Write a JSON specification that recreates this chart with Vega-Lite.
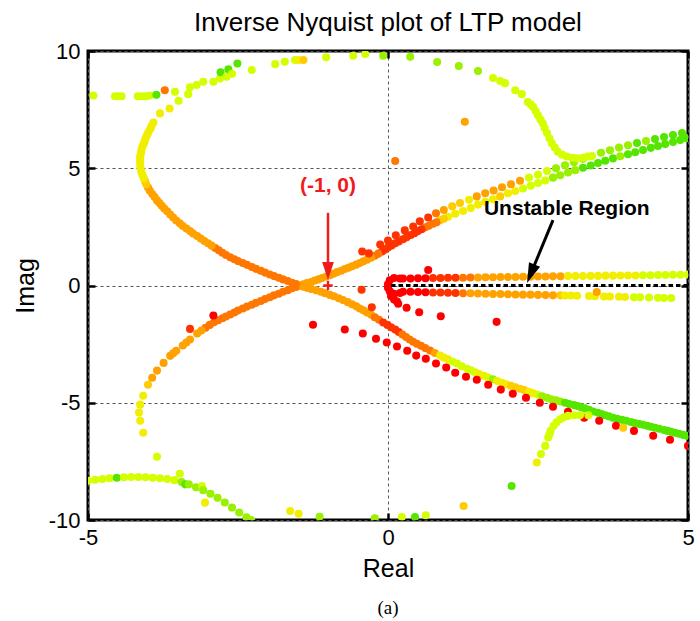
{
"$schema": "https://vega.github.io/schema/vega-lite/v6.json",
"width": 600, "height": 469,
"autosize": {"type": "none"},
"padding": {"left": 88, "top": 51, "right": 12, "bottom": 101},
"background": "white",
"title": {"text": "Inverse Nyquist plot of LTP model", "fontSize": 26, "fontWeight": "normal", "font": "Liberation Sans", "color": "black", "offset": 4},
"config": {"view": {"stroke": "black", "strokeWidth": 3}},
"datasets": {
"pts": [
{"x":-1.47,"y":0,"c":3},{"x":-1.35,"y":0.1,"c":3},{"x":-1.22,"y":0.21,"c":3},{"x":-1.1,"y":0.32,"c":3},{"x":-0.97,"y":0.44,"c":3},{"x":-0.85,"y":0.57,"c":3},{"x":-0.72,"y":0.7,"c":3},{"x":-0.6,"y":0.82,"c":3},{"x":-0.47,"y":0.96,"c":3},{"x":-0.35,"y":1.1,"c":3},{"x":-0.22,"y":1.27,"c":2},{"x":-0.1,"y":1.45,"c":1},{"x":0,"y":1.62,"c":1},{"x":0.12,"y":1.8,"c":1},{"x":0.25,"y":1.97,"c":1},{"x":0.38,"y":2.15,"c":1},{"x":0.5,"y":2.32,"c":1},{"x":0.62,"y":2.48,"c":2},{"x":0.75,"y":2.63,"c":2},{"x":0.87,"y":2.78,"c":4},{"x":1,"y":2.93,"c":5},{"x":1.12,"y":3.06,"c":5},{"x":1.25,"y":3.18,"c":5},{"x":1.38,"y":3.3,"c":5},{"x":1.5,"y":3.45,"c":5},{"x":1.62,"y":3.57,"c":5},{"x":1.75,"y":3.68,"c":5},{"x":1.87,"y":3.8,"c":4},{"x":2,"y":3.93,"c":5},{"x":2.12,"y":4.03,"c":5},{"x":2.25,"y":4.14,"c":6},{"x":2.38,"y":4.25,"c":6},{"x":2.5,"y":4.37,"c":6},{"x":2.62,"y":4.48,"c":6},{"x":2.75,"y":4.6,"c":7},{"x":2.87,"y":4.7,"c":7},{"x":3,"y":4.82,"c":7},{"x":3.12,"y":4.92,"c":7},{"x":3.25,"y":5.02,"c":8},{"x":3.38,"y":5.12,"c":8},{"x":3.5,"y":5.22,"c":8},{"x":3.62,"y":5.32,"c":8},{"x":3.75,"y":5.42,"c":8},{"x":3.87,"y":5.51,"c":7},{"x":4,"y":5.6,"c":8},{"x":4.12,"y":5.68,"c":8},{"x":4.25,"y":5.78,"c":8},{"x":4.38,"y":5.87,"c":8},{"x":4.5,"y":5.95,"c":8},{"x":4.62,"y":6.03,"c":8},{"x":4.75,"y":6.12,"c":8},{"x":4.87,"y":6.2,"c":8},{"x":4.98,"y":6.28,"c":8},
{"x":-1.41,"y":0.05,"c":3},{"x":-1.28,"y":0.15,"c":3},{"x":-1.16,"y":0.26,"c":3},{"x":-1.03,"y":0.38,"c":3},{"x":-0.91,"y":0.5,"c":3},{"x":-0.78,"y":0.63,"c":3},{"x":-0.66,"y":0.76,"c":3},{"x":-0.53,"y":0.89,"c":3},{"x":-0.41,"y":1.03,"c":3},{"x":-0.28,"y":1.18,"c":3},{"x":-0.16,"y":1.36,"c":2},{"x":-0.05,"y":1.53,"c":1},{"x":0.06,"y":1.71,"c":1},{"x":0.18,"y":1.88,"c":1},{"x":0.31,"y":2.06,"c":1},{"x":0.44,"y":2.23,"c":1},{"x":0.56,"y":2.4,"c":1},{"x":0.68,"y":2.55,"c":2},{"x":0.81,"y":2.7,"c":2},{"x":0.93,"y":2.85,"c":4},
{"x":-0.43,"y":1.45,"c":1},{"x":-0.32,"y":1.37,"c":1},{"x":-0.13,"y":1.75,"c":1},{"x":0,"y":1.92,"c":1},{"x":0.13,"y":2.14,"c":1},{"x":0.28,"y":2.35,"c":1},{"x":0.42,"y":2.52,"c":1},{"x":0.53,"y":2.74,"c":1},{"x":0.67,"y":2.9,"c":1},{"x":0.8,"y":3.08,"c":2},{"x":0.93,"y":3.22,"c":3},{"x":1.07,"y":3.38,"c":4},{"x":1.2,"y":3.52,"c":4},{"x":1.35,"y":3.66,"c":5},{"x":1.48,"y":3.8,"c":3},{"x":1.62,"y":3.93,"c":3},{"x":1.76,"y":4.05,"c":3},{"x":1.9,"y":4.19,"c":3},{"x":2.05,"y":4.32,"c":3},{"x":2.2,"y":4.47,"c":3},{"x":2.35,"y":4.6,"c":6},{"x":2.5,"y":4.72,"c":6},{"x":2.65,"y":4.88,"c":6},{"x":2.8,"y":5,"c":7},{"x":2.95,"y":5.13,"c":7},{"x":3.1,"y":5.26,"c":7},{"x":3.25,"y":5.4,"c":7},{"x":3.4,"y":5.52,"c":6},{"x":3.55,"y":5.66,"c":7},{"x":3.7,"y":5.77,"c":7},{"x":3.85,"y":5.88,"c":7},{"x":4,"y":5.98,"c":7},{"x":4.15,"y":6.08,"c":8},{"x":4.3,"y":6.16,"c":7},{"x":4.45,"y":6.25,"c":8},{"x":4.6,"y":6.33,"c":8},{"x":4.75,"y":6.42,"c":8},{"x":4.9,"y":6.5,"c":8},
{"x":-1.53,"y":0.06,"c":2},{"x":-1.6,"y":0.12,"c":2},{"x":-1.67,"y":0.19,"c":2},{"x":-1.75,"y":0.26,"c":2},{"x":-1.82,"y":0.33,"c":2},{"x":-1.9,"y":0.4,"c":2},{"x":-1.97,"y":0.47,"c":2},{"x":-2.05,"y":0.55,"c":2},{"x":-2.12,"y":0.63,"c":2},{"x":-2.2,"y":0.71,"c":2},{"x":-2.27,"y":0.79,"c":2},{"x":-2.35,"y":0.88,"c":2},{"x":-2.42,"y":0.96,"c":2},{"x":-2.5,"y":1.04,"c":2},{"x":-2.56,"y":1.12,"c":2},{"x":-2.63,"y":1.2,"c":2},{"x":-2.7,"y":1.3,"c":2},{"x":-2.76,"y":1.4,"c":2},{"x":-2.82,"y":1.5,"c":2},{"x":-2.88,"y":1.6,"c":2},{"x":-2.94,"y":1.7,"c":3},{"x":-3,"y":1.8,"c":3},{"x":-3.06,"y":1.9,"c":3},{"x":-3.12,"y":2,"c":3},{"x":-3.18,"y":2.11,"c":3},{"x":-3.25,"y":2.22,"c":3},{"x":-3.3,"y":2.32,"c":3},{"x":-3.36,"y":2.43,"c":3},{"x":-3.42,"y":2.54,"c":3},{"x":-3.47,"y":2.65,"c":3},{"x":-3.53,"y":2.77,"c":3},{"x":-3.58,"y":2.9,"c":3},{"x":-3.63,"y":3.03,"c":3},{"x":-3.68,"y":3.17,"c":3},{"x":-3.73,"y":3.28,"c":3},{"x":-3.77,"y":3.4,"c":3},{"x":-3.81,"y":3.52,"c":3},{"x":-3.85,"y":3.63,"c":3},{"x":-3.89,"y":3.77,"c":3},{"x":-3.93,"y":3.9,"c":3},{"x":-3.97,"y":4.04,"c":3},{"x":-4,"y":4.18,"c":3},{"x":-4.03,"y":4.32,"c":4},{"x":-4.05,"y":4.45,"c":4},{"x":-4.07,"y":4.58,"c":5},{"x":-4.09,"y":4.7,"c":5},{"x":-4.11,"y":4.84,"c":5},{"x":-4.12,"y":4.97,"c":5},{"x":-4.13,"y":5.11,"c":5},{"x":-4.13,"y":5.25,"c":5},{"x":-4.13,"y":5.38,"c":5},{"x":-4.13,"y":5.5,"c":5},{"x":-4.12,"y":5.62,"c":5},{"x":-4.11,"y":5.75,"c":5},{"x":-4.1,"y":5.88,"c":5},{"x":-4.08,"y":6,"c":5},{"x":-4.06,"y":6.11,"c":5},{"x":-4.05,"y":6.22,"c":5},{"x":-4.03,"y":6.33,"c":5},{"x":-4.01,"y":6.45,"c":5},{"x":-3.99,"y":6.56,"c":5},{"x":-3.96,"y":6.68,"c":5},{"x":-3.94,"y":6.8,"c":5},{"x":-3.91,"y":6.95,"c":5},{"x":-3.8,"y":7.34,"c":5},{"x":-3.64,"y":7.55,"c":5},{"x":-3.49,"y":7.88,"c":6},{"x":-3.33,"y":8.16,"c":6},
{"x":-1.53,"y":-0.06,"c":2},{"x":-1.6,"y":-0.12,"c":2},{"x":-1.67,"y":-0.2,"c":2},{"x":-1.75,"y":-0.27,"c":2},{"x":-1.82,"y":-0.35,"c":2},{"x":-1.9,"y":-0.42,"c":2},{"x":-1.97,"y":-0.5,"c":2},{"x":-2.05,"y":-0.58,"c":2},{"x":-2.12,"y":-0.66,"c":2},{"x":-2.2,"y":-0.74,"c":2},{"x":-2.27,"y":-0.82,"c":2},{"x":-2.35,"y":-0.9,"c":2},{"x":-2.42,"y":-0.98,"c":2},{"x":-2.5,"y":-1.07,"c":2},{"x":-2.56,"y":-1.15,"c":2},{"x":-2.63,"y":-1.24,"c":2},{"x":-2.7,"y":-1.32,"c":2},{"x":-2.76,"y":-1.4,"c":2},{"x":-2.83,"y":-1.48,"c":2},{"x":-2.9,"y":-1.57,"c":2},{"x":-2.97,"y":-1.68,"c":2},{"x":-3.04,"y":-1.8,"c":2},{"x":-3.11,"y":-1.92,"c":3},{"x":-3.18,"y":-2.05,"c":3},{"x":-3.3,"y":-2.3,"c":3},{"x":-3.36,"y":-2.43,"c":3},{"x":-3.42,"y":-2.56,"c":3},{"x":-3.53,"y":-2.78,"c":3},{"x":-3.58,"y":-2.89,"c":3},{"x":-3.63,"y":-3,"c":3},{"x":-3.74,"y":-3.3,"c":3},{"x":-3.85,"y":-3.63,"c":3},{"x":-3.93,"y":-3.93,"c":3},{"x":-4,"y":-4.23,"c":4},{"x":-4.08,"y":-4.7,"c":5},{"x":-4.13,"y":-5.08,"c":5},{"x":-4.15,"y":-5.42,"c":5},{"x":-4.13,"y":-5.77,"c":5},{"x":-4.08,"y":-6.28,"c":5},{"x":-3.85,"y":-7.3,"c":6},{"x":-3.47,"y":-8.03,"c":6},{"x":-3.05,"y":-9.26,"c":5},
{"x":-1.41,"y":-0.05,"c":3},{"x":-1.35,"y":-0.1,"c":3},{"x":-1.28,"y":-0.15,"c":3},{"x":-1.2,"y":-0.2,"c":3},{"x":-1.12,"y":-0.27,"c":3},{"x":-1.05,"y":-0.33,"c":3},{"x":-0.97,"y":-0.4,"c":3},{"x":-0.9,"y":-0.46,"c":3},{"x":-0.82,"y":-0.54,"c":3},{"x":-0.75,"y":-0.62,"c":3},{"x":-0.67,"y":-0.71,"c":3},{"x":-0.6,"y":-0.8,"c":3},{"x":-0.53,"y":-0.89,"c":3},{"x":-0.47,"y":-0.98,"c":3},{"x":-0.41,"y":-1.06,"c":3},{"x":-0.35,"y":-1.15,"c":3},{"x":-0.28,"y":-1.25,"c":3},{"x":-0.22,"y":-1.35,"c":2},{"x":-0.15,"y":-1.46,"c":2},{"x":-0.08,"y":-1.58,"c":1},{"x":-0.01,"y":-1.68,"c":1},{"x":0.05,"y":-1.78,"c":1},{"x":0.12,"y":-1.88,"c":1},{"x":0.18,"y":-1.98,"c":1},{"x":0.24,"y":-2.09,"c":2},{"x":0.3,"y":-2.2,"c":2},{"x":0.36,"y":-2.3,"c":2},{"x":0.42,"y":-2.4,"c":2},{"x":0.48,"y":-2.48,"c":2},{"x":0.55,"y":-2.57,"c":2},{"x":0.62,"y":-2.67,"c":2},{"x":0.7,"y":-2.77,"c":2},{"x":0.78,"y":-2.88,"c":3},{"x":0.87,"y":-2.99,"c":5},{"x":0.93,"y":-3.07,"c":5},{"x":1,"y":-3.15,"c":5},{"x":1.07,"y":-3.24,"c":6},{"x":1.15,"y":-3.33,"c":6},{"x":1.23,"y":-3.44,"c":6},{"x":1.32,"y":-3.55,"c":6},{"x":1.38,"y":-3.62,"c":6},{"x":1.45,"y":-3.7,"c":6},{"x":1.52,"y":-3.77,"c":5},{"x":1.6,"y":-3.85,"c":5},{"x":1.67,"y":-3.92,"c":6},{"x":1.75,"y":-4,"c":7},{"x":1.82,"y":-4.07,"c":5},{"x":1.9,"y":-4.15,"c":5},{"x":1.97,"y":-4.21,"c":5},{"x":2.05,"y":-4.28,"c":4},{"x":2.12,"y":-4.34,"c":4},{"x":2.2,"y":-4.4,"c":4},{"x":2.27,"y":-4.46,"c":4},{"x":2.35,"y":-4.53,"c":5},{"x":2.42,"y":-4.6,"c":5},{"x":2.5,"y":-4.66,"c":6},{"x":2.57,"y":-4.72,"c":7},{"x":2.65,"y":-4.79,"c":7},{"x":2.72,"y":-4.85,"c":7},{"x":2.8,"y":-4.9,"c":7},{"x":2.87,"y":-4.95,"c":7},{"x":2.95,"y":-5,"c":8},{"x":3.02,"y":-5.05,"c":8},{"x":3.1,"y":-5.1,"c":8},{"x":3.16,"y":-5.14,"c":8},{"x":3.22,"y":-5.19,"c":8},{"x":3.28,"y":-5.24,"c":8},{"x":3.35,"y":-5.3,"c":8},{"x":3.42,"y":-5.37,"c":8},{"x":3.5,"y":-5.43,"c":8},{"x":3.56,"y":-5.48,"c":8},{"x":3.62,"y":-5.53,"c":8},{"x":3.68,"y":-5.58,"c":8},{"x":3.75,"y":-5.64,"c":8},{"x":3.82,"y":-5.68,"c":8},{"x":3.9,"y":-5.73,"c":8},{"x":3.97,"y":-5.77,"c":8},{"x":4.05,"y":-5.82,"c":8},{"x":4.11,"y":-5.86,"c":8},{"x":4.18,"y":-5.9,"c":8},{"x":4.25,"y":-5.94,"c":8},{"x":4.32,"y":-5.98,"c":8},{"x":4.38,"y":-6.02,"c":8},{"x":4.45,"y":-6.07,"c":8},{"x":4.52,"y":-6.11,"c":8},{"x":4.6,"y":-6.16,"c":8},{"x":4.66,"y":-6.2,"c":8},{"x":4.72,"y":-6.24,"c":8},{"x":4.78,"y":-6.28,"c":8},{"x":4.85,"y":-6.32,"c":8},{"x":4.92,"y":-6.37,"c":8},{"x":4.98,"y":-6.41,"c":8},
{"x":-1.25,"y":-1.67,"c":0},{"x":-0.72,"y":-1.88,"c":0},{"x":-0.42,"y":-2.05,"c":0},{"x":-0.2,"y":-2.27,"c":0},{"x":-0.02,"y":-2.43,"c":0},{"x":0.15,"y":-2.6,"c":0},{"x":0.32,"y":-2.78,"c":0},{"x":0.47,"y":-2.99,"c":0},{"x":0.63,"y":-3.12,"c":0},{"x":0.8,"y":-3.33,"c":0},{"x":0.97,"y":-3.5,"c":0},{"x":1.12,"y":-3.72,"c":0},{"x":1.3,"y":-3.89,"c":0},{"x":1.48,"y":-4.02,"c":0},{"x":1.67,"y":-4.23,"c":0},{"x":1.88,"y":-4.44,"c":0},{"x":2.08,"y":-4.62,"c":0},{"x":2.3,"y":-4.79,"c":0},{"x":2.53,"y":-5,"c":0},{"x":2.75,"y":-5.17,"c":0},{"x":3,"y":-5.38,"c":0},{"x":3.27,"y":-5.64,"c":0},{"x":3.52,"y":-5.77,"c":0},{"x":3.8,"y":-5.98,"c":0},{"x":4.1,"y":-6.2,"c":0},{"x":4.42,"y":-6.41,"c":0},{"x":4.7,"y":-6.58,"c":0},{"x":5,"y":-6.84,"c":0},
{"x":-2.91,"y":-1.28,"c":0},{"x":-3.3,"y":-1.85,"c":1},{"x":0.17,"y":-0.78,"c":0},{"x":0.31,"y":-0.95,"c":0},{"x":0.52,"y":-1.14,"c":0},{"x":0.88,"y":-1.31,"c":0},{"x":1.81,"y":-1.55,"c":0},{"x":-0.44,"y":-0.18,"c":1},{"x":-0.27,"y":-0.93,"c":1},{"x":0.67,"y":0.66,"c":0},{"x":0.12,"y":5.31,"c":2},{"x":1.28,"y":6.98,"c":3},
{"x":-4.91,"y":8.1,"c":6},{"x":-4.55,"y":8.07,"c":6},{"x":-4.5,"y":8.07,"c":6},{"x":-4.44,"y":8.07,"c":6},{"x":-4.17,"y":8.07,"c":6},{"x":-4.1,"y":8.07,"c":6},{"x":-4.03,"y":8.07,"c":6},{"x":-3.97,"y":8.1,"c":6},{"x":-3.86,"y":8.13,"c":8},{"x":-3.72,"y":8.33,"c":2},{"x":-3.55,"y":8.26,"c":6},
{"x":-3.3,"y":8.45,"c":6},{"x":-3.19,"y":8.55,"c":6},{"x":-3.08,"y":8.69,"c":6},{"x":-2.91,"y":8.69,"c":6},{"x":-2.8,"y":8.83,"c":6},{"x":-2.79,"y":9.09,"c":8},{"x":-2.69,"y":8.9,"c":6},{"x":-2.66,"y":9.22,"c":8},{"x":-2.6,"y":9.03,"c":6},{"x":-2.51,"y":9.47,"c":8},{"x":-2.27,"y":9.19,"c":6},{"x":-1.88,"y":9.44,"c":6},{"x":-1.72,"y":9.54,"c":6},{"x":-1.55,"y":9.62,"c":6},{"x":-1.49,"y":9.62,"c":5},{"x":-1.41,"y":9.62,"c":4},{"x":-1.03,"y":9.73,"c":6},{"x":-0.58,"y":9.8,"c":6},{"x":-0.38,"y":9.87,"c":6},{"x":-0.08,"y":9.8,"c":7},{"x":0.37,"y":9.75,"c":7},{"x":0.82,"y":9.53,"c":7},{"x":1.18,"y":9.36,"c":7},{"x":1.5,"y":9.15,"c":7},{"x":1.75,"y":8.85,"c":6},{"x":1.87,"y":8.72,"c":6},{"x":1.95,"y":8.63,"c":6},{"x":2.12,"y":8.33,"c":6},{"x":2.23,"y":8.16,"c":6},{"x":2.33,"y":7.82,"c":6},{"x":2.38,"y":7.72,"c":6},{"x":2.42,"y":7.61,"c":6},{"x":2.46,"y":7.44,"c":6},{"x":2.5,"y":7.26,"c":6},{"x":2.54,"y":7.08,"c":6},{"x":2.58,"y":6.92,"c":6},{"x":2.61,"y":6.72,"c":6},{"x":2.65,"y":6.5,"c":6},{"x":2.69,"y":6.28,"c":6},{"x":2.73,"y":6.07,"c":6},{"x":2.78,"y":5.88,"c":6},{"x":2.83,"y":5.7,"c":6},{"x":2.9,"y":5.58,"c":6},{"x":2.98,"y":5.5,"c":6},{"x":3.07,"y":5.45,"c":6},{"x":3.15,"y":5.43,"c":6},{"x":3.25,"y":5.45,"c":6},{"x":3.33,"y":5.5,"c":6},
{"x":2.48,"y":-7.55,"c":5},{"x":2.55,"y":-7.19,"c":6},{"x":2.62,"y":-6.84,"c":6},{"x":2.67,"y":-6.48,"c":6},{"x":2.69,"y":-6.34,"c":6},{"x":2.71,"y":-6.2,"c":6},{"x":2.76,"y":-5.98,"c":6},{"x":2.81,"y":-5.83,"c":6},{"x":2.87,"y":-5.7,"c":6},{"x":2.93,"y":-5.62,"c":6},{"x":3,"y":-5.56,"c":6},{"x":3.1,"y":-5.53,"c":6},{"x":3.2,"y":-5.53,"c":6},{"x":3.34,"y":-5.53,"c":6},{"x":3.92,"y":-6.07,"c":4},
{"x":-5,"y":-8.33,"c":6},{"x":-4.88,"y":-8.28,"c":6},{"x":-4.76,"y":-8.25,"c":6},{"x":-4.64,"y":-8.22,"c":6},{"x":-4.52,"y":-8.2,"c":8},{"x":-4.4,"y":-8.18,"c":6},{"x":-4.28,"y":-8.17,"c":6},{"x":-4.16,"y":-8.17,"c":6},{"x":-4.04,"y":-8.18,"c":6},{"x":-3.92,"y":-8.2,"c":6},{"x":-3.8,"y":-8.22,"c":6},{"x":-3.68,"y":-8.25,"c":6},{"x":-3.56,"y":-8.3,"c":6},{"x":-3.44,"y":-8.38,"c":7},{"x":-3.38,"y":-8.48,"c":8},{"x":-3.32,"y":-8.48,"c":7},{"x":-3.2,"y":-8.6,"c":7},{"x":-3.1,"y":-8.55,"c":6},{"x":-3.08,"y":-8.73,"c":7},{"x":-2.96,"y":-8.88,"c":7},{"x":-2.84,"y":-9.05,"c":7},{"x":-2.72,"y":-9.25,"c":7},{"x":-2.6,"y":-9.47,"c":7},{"x":-2.48,"y":-9.68,"c":7},{"x":-2.36,"y":-9.88,"c":7},{"x":-2.28,"y":-10,"c":7},
{"x":-1.63,"y":-9.62,"c":5},{"x":-1.49,"y":-9.73,"c":5},{"x":-1.14,"y":-9.86,"c":7},{"x":-0.22,"y":-9.93,"c":7},{"x":0.23,"y":-9.87,"c":6},{"x":0.45,"y":-9.87,"c":8},{"x":0.63,"y":-9.8,"c":6},{"x":1.26,"y":-9.4,"c":4},{"x":2.06,"y":-8.55,"c":8},
{"x":0,"y":0.05,"c":0},{"x":0,"y":-0.1,"c":0},{"x":0.03,"y":0.22,"c":0},{"x":0.03,"y":-0.25,"c":0},{"x":0.1,"y":0.32,"c":0},{"x":0.1,"y":-0.35,"c":0},{"x":0.2,"y":0.3,"c":0},{"x":0.2,"y":-0.32,"c":0},{"x":0.05,"y":-0.45,"c":0},{"x":0.1,"y":-0.6,"c":0},{"x":0.15,"y":-0.68,"c":0},
{"x":0.25,"y":0.3,"c":0},{"x":0.375,"y":0.3,"c":0},{"x":0.5,"y":0.31,"c":0},{"x":0.625,"y":0.31,"c":0},{"x":0.75,"y":0.32,"c":1},{"x":0.875,"y":0.32,"c":1},{"x":1,"y":0.33,"c":1},{"x":1.125,"y":0.33,"c":1},{"x":1.25,"y":0.33,"c":2},{"x":1.375,"y":0.34,"c":2},{"x":1.5,"y":0.34,"c":3},{"x":1.625,"y":0.35,"c":3},{"x":1.75,"y":0.35,"c":3},{"x":1.875,"y":0.36,"c":3},{"x":2,"y":0.36,"c":3},{"x":2.125,"y":0.36,"c":3},{"x":2.25,"y":0.37,"c":3},{"x":2.375,"y":0.37,"c":3},{"x":2.5,"y":0.38,"c":3},{"x":2.625,"y":0.38,"c":3},{"x":2.75,"y":0.39,"c":3},{"x":2.875,"y":0.39,"c":3},{"x":3,"y":0.4,"c":5},{"x":3.125,"y":0.4,"c":5},{"x":3.25,"y":0.4,"c":5},{"x":3.375,"y":0.41,"c":5},{"x":3.5,"y":0.41,"c":5},{"x":3.625,"y":0.42,"c":5},{"x":3.75,"y":0.42,"c":5},{"x":3.875,"y":0.43,"c":5},{"x":4,"y":0.43,"c":5},{"x":4.125,"y":0.43,"c":5},{"x":4.25,"y":0.44,"c":6},{"x":4.375,"y":0.44,"c":6},{"x":4.5,"y":0.45,"c":6},{"x":4.625,"y":0.45,"c":6},{"x":4.75,"y":0.46,"c":6},{"x":4.875,"y":0.46,"c":6},{"x":5,"y":0.47,"c":6},
{"x":0.25,"y":-0.27,"c":0},{"x":0.375,"y":-0.27,"c":0},{"x":0.5,"y":-0.28,"c":0},{"x":0.625,"y":-0.29,"c":0},{"x":0.75,"y":-0.3,"c":1},{"x":0.875,"y":-0.3,"c":1},{"x":1,"y":-0.31,"c":1},{"x":1.125,"y":-0.32,"c":1},{"x":1.25,"y":-0.33,"c":2},{"x":1.375,"y":-0.33,"c":3},{"x":1.5,"y":-0.34,"c":3},{"x":1.625,"y":-0.35,"c":3},{"x":1.75,"y":-0.36,"c":3},{"x":1.875,"y":-0.36,"c":3},{"x":2,"y":-0.37,"c":3},{"x":2.125,"y":-0.38,"c":3},{"x":2.25,"y":-0.39,"c":3},{"x":2.375,"y":-0.39,"c":3},{"x":2.5,"y":-0.4,"c":3},{"x":2.625,"y":-0.41,"c":3},{"x":2.75,"y":-0.42,"c":3},{"x":2.875,"y":-0.42,"c":4},{"x":2.95,"y":-0.43,"c":5},{"x":3.05,"y":-0.43,"c":5},{"x":3.15,"y":-0.44,"c":5},{"x":3.35,"y":-0.45,"c":5},{"x":3.45,"y":-0.46,"c":5},{"x":3.48,"y":-0.28,"c":3},{"x":3.6,"y":-0.47,"c":5},{"x":3.7,"y":-0.47,"c":5},{"x":3.85,"y":-0.48,"c":5},{"x":3.95,"y":-0.49,"c":5},{"x":4.1,"y":-0.5,"c":6},{"x":4.2,"y":-0.5,"c":6},{"x":4.35,"y":-0.51,"c":6},{"x":4.5,"y":-0.52,"c":6},{"x":4.6,"y":-0.53,"c":6},{"x":4.72,"y":-0.53,"c":6}
],
"unstable": [{"x": 0.05, "x2": 5, "y": 0}],
"arrows": [{"id": "red", "x": -1, "y": 3.1, "x2": -1, "y2": 0.8}, {"id": "black", "x": 2.75, "y": 2.79, "x2": 2.38, "y2": 0.5}],
"heads": [{"id": "red", "x": -1, "y": 0.62}, {"id": "black", "x": 2.38, "y": 0.5}],
"origin": [{"x": -1, "y": 0}],
"notes": [{"id": "red", "x": -1, "y": 4.24, "text": "(-1, 0)"}, {"id": "black", "x": 2.98, "y": 3.26, "text": "Unstable Region"}, {"id": "caption", "x": 0, "y": -13.75, "text": "(a)"}]
},
"layer": [
{"data": {"name": "pts"},
 "mark": {"type": "circle", "size": 65, "opacity": 1, "clip": true},
 "encoding": {
  "x": {"field": "x", "type": "quantitative", "scale": {"domain": [-5, 5], "nice": false, "zero": false},
   "axis": {"orient": "bottom", "values": [-5, 0, 5], "labelExpr": "'' + datum.value", "title": "Real", "grid": true, "gridDash": [3, 3], "gridColor": "#555", "gridWidth": 1, "gridOpacity": 1, "domain": false, "ticks": true, "tickSize": -7, "tickWidth": 2.5, "tickColor": "black", "labelFontSize": 22, "labelFont": "Liberation Sans", "labelColor": "black", "labelPadding": 14, "labelFlush": false, "titleFontSize": 25, "titleFont": "Liberation Sans", "titleFontWeight": "normal", "titleColor": "black", "titlePadding": 8}},
  "y": {"field": "y", "type": "quantitative", "scale": {"domain": [-10, 10], "nice": false, "zero": false},
   "axis": {"orient": "left", "values": [-10, -5, 0, 5, 10], "labelExpr": "'' + datum.value", "title": "Imag", "grid": true, "gridDash": [3, 3], "gridColor": "#555", "gridWidth": 1, "gridOpacity": 1, "domain": false, "ticks": true, "tickSize": -7, "tickWidth": 2.5, "tickColor": "black", "labelFontSize": 22, "labelFont": "Liberation Sans", "labelColor": "black", "labelPadding": 15, "labelFlush": false, "titleFontSize": 25, "titleFont": "Liberation Sans", "titleFontWeight": "normal", "titleColor": "black", "titlePadding": 10}},
  "color": {"field": "c", "type": "quantitative", "scale": {"domain": [0, 1, 2, 3, 4, 5, 6, 7, 8], "range": ["#ff0000", "#ff3300", "#ff7700", "#ffa200", "#ffcc00", "#f2ee00", "#d4ff00", "#99f000", "#55e600"]}, "legend": null}
 }},
{"data": {"name": "unstable"},
 "mark": {"type": "rule", "color": "black", "strokeWidth": 3, "strokeDash": [4.5, 3]},
 "encoding": {
  "x": {"field": "x", "type": "quantitative", "axis": {"orient": "top", "values": [-5, 0, 5], "labels": false, "grid": false, "domain": false, "ticks": true, "tickSize": -7, "tickWidth": 2.5, "tickColor": "black", "title": null}},
  "x2": {"field": "x2"},
  "y": {"field": "y", "type": "quantitative", "axis": {"orient": "right", "values": [-10, -5, 0, 5, 10], "labels": false, "grid": false, "domain": false, "ticks": true, "tickSize": -7, "tickWidth": 2.5, "tickColor": "black", "title": null}}
 }},
{"data": {"name": "arrows"}, "transform": [{"filter": "datum.id === 'red'"}],
 "mark": {"type": "rule", "color": "#f01c1c", "strokeWidth": 2.5},
 "encoding": {"x": {"field": "x", "type": "quantitative", "axis": null}, "y": {"field": "y", "type": "quantitative", "axis": null}, "y2": {"field": "y2"}}},
{"data": {"name": "arrows"}, "transform": [{"filter": "datum.id === 'black'"}],
 "mark": {"type": "rule", "color": "black", "strokeWidth": 3},
 "encoding": {"x": {"field": "x", "type": "quantitative", "axis": null}, "y": {"field": "y", "type": "quantitative", "axis": null}, "x2": {"field": "x2"}, "y2": {"field": "y2"}}},
{"data": {"name": "heads"}, "transform": [{"filter": "datum.id === 'red'"}],
 "mark": {"type": "point", "shape": "M-0.65,-1L0.65,-1L0,1Z", "filled": true, "size": 324, "color": "#f01c1c", "opacity": 1},
 "encoding": {"x": {"field": "x", "type": "quantitative", "axis": null}, "y": {"field": "y", "type": "quantitative", "axis": null}}},
{"data": {"name": "heads"}, "transform": [{"filter": "datum.id === 'black'"}],
 "mark": {"type": "point", "shape": "M-0.6,-1L0.6,-1L0,1Z", "filled": true, "size": 400, "color": "black", "opacity": 1, "angle": 22},
 "encoding": {"x": {"field": "x", "type": "quantitative", "axis": null}, "y": {"field": "y", "type": "quantitative", "axis": null}}},
{"data": {"name": "origin"},
 "mark": {"type": "point", "shape": "M-1,0L1,0M0,-1L0,1", "filled": false, "size": 90, "stroke": "#f01c1c", "strokeWidth": 2.4, "opacity": 1},
 "encoding": {"x": {"field": "x", "type": "quantitative", "axis": null}, "y": {"field": "y", "type": "quantitative", "axis": null}}},
{"data": {"name": "notes"}, "transform": [{"filter": "datum.id === 'red'"}],
 "mark": {"type": "text", "font": "Liberation Sans", "fontSize": 21, "fontWeight": "bold", "color": "#f01c1c", "align": "center", "baseline": "middle"},
 "encoding": {"x": {"field": "x", "type": "quantitative", "axis": null}, "y": {"field": "y", "type": "quantitative", "axis": null}, "text": {"field": "text"}}},
{"data": {"name": "notes"}, "transform": [{"filter": "datum.id === 'black'"}],
 "mark": {"type": "text", "font": "Liberation Sans", "fontSize": 21, "fontWeight": "bold", "color": "black", "align": "center", "baseline": "middle"},
 "encoding": {"x": {"field": "x", "type": "quantitative", "axis": null}, "y": {"field": "y", "type": "quantitative", "axis": null}, "text": {"field": "text"}}},
{"data": {"name": "notes"}, "transform": [{"filter": "datum.id === 'caption'"}],
 "mark": {"type": "text", "font": "Liberation Serif", "fontSize": 19, "color": "black", "align": "center", "baseline": "middle"},
 "encoding": {"x": {"field": "x", "type": "quantitative", "axis": null}, "y": {"field": "y", "type": "quantitative", "axis": null}, "text": {"field": "text"}}}
],
"resolve": {"axis": {"x": "independent", "y": "independent"}}
}
